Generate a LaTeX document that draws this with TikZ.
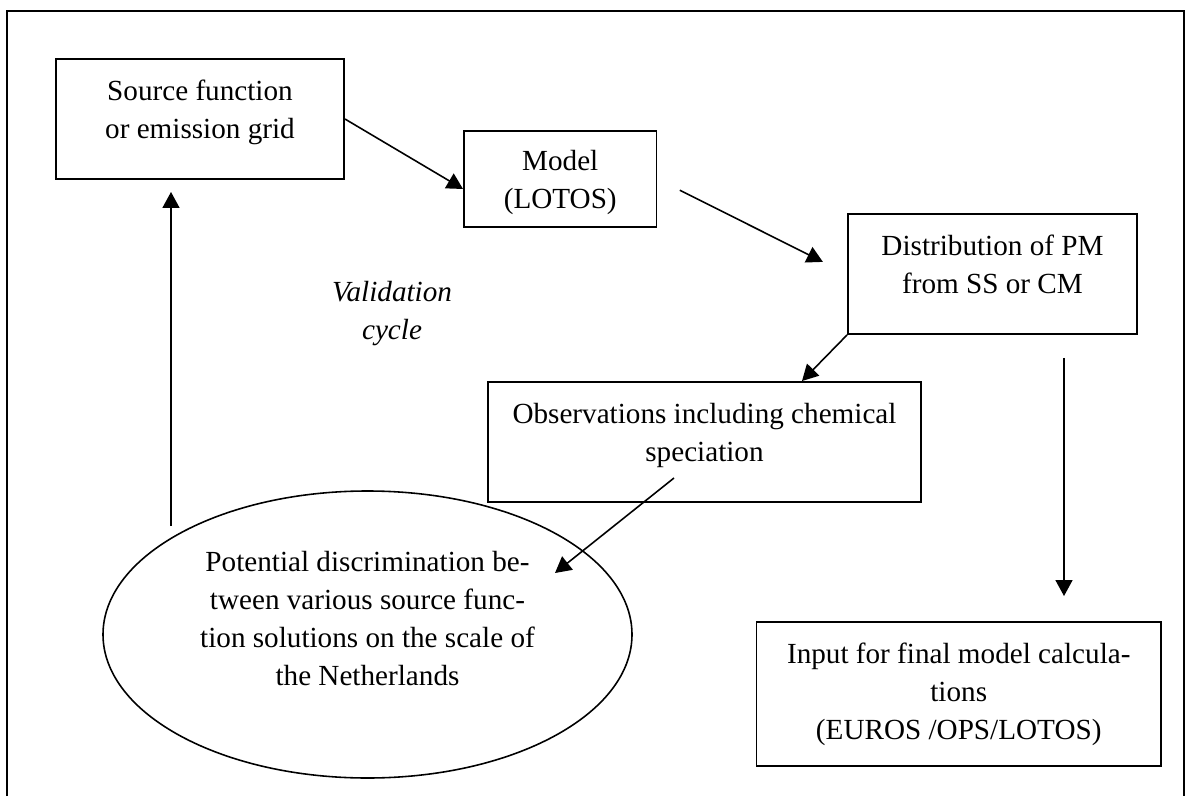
\documentclass[tikz,border=0pt]{standalone}
\usepackage{fontspec}
\setmainfont{Liberation Serif}
\usetikzlibrary{shapes.geometric,positioning,calc,arrows.meta}

\tikzset{
    txt/.style={font=\fontsize{16.6}{21.6}\selectfont, align=center},
    blockbox/.style={txt, draw, line width=1.1pt, rectangle, inner sep=0pt},
    ellbox/.style={txt, draw, line width=0.9pt, ellipse, inner sep=0pt},
    flow/.style={line width=0.9pt, -{Triangle[length=0.32cm,width=0.34cm]}}
}

\begin{document}
\begin{tikzpicture}
    \useasboundingbox (0,0) rectangle (23.72,15.92);

    % Frame (open at the bottom)
    \draw[line width=1.1pt] (0.14,0) -- (0.14,15.7) -- (23.68,15.7) -- (23.68,0);

    % Boxes
    \node[blockbox, minimum width=5.76cm, minimum height=2.4cm, text depth=11.6pt] (src) at (4.0,13.54) {Source function\\or emission grid};
    \node[blockbox, minimum width=3.85cm, minimum height=1.92cm, text depth=-3.2pt] (model) at (11.205,12.34) {Model\\(LOTOS)};
    \node[blockbox, minimum width=5.78cm, minimum height=2.4cm, text depth=11.4pt] (dist) at (19.85,10.44) {Distribution of PM\\from SS or CM};
    \node[blockbox, minimum width=8.66cm, minimum height=2.4cm, text depth=11pt] (obs) at (14.09,7.08) {Observations including chemical\\speciation};
    \node[ellbox, minimum width=10.58cm, minimum height=5.74cm, text depth=18.8pt] (ell) at (7.35,3.23) {Potential discrimination be-\\tween various source func-\\tion solutions on the scale of\\the Netherlands};
    \node[blockbox, minimum width=8.09cm, minimum height=2.88cm] (inp) at (19.175,2.04) {Input for final model calcula-\\tions\\(EUROS /OPS/LOTOS)};

    % Label of the loop
    \node[txt, font=\fontsize{16.6}{21.6}\selectfont\itshape] (cyclabel) at (7.84,9.65) {Validation\\cycle};

    % Connectors
    \coordinate (obsout) at ($(obs.center)+(-0.61,-0.72)$);
    \coordinate (ellin) at ($(ell.center)+(3.75,1.23)$);
    \coordinate (dn) at ($(dist.south)+(1.43,-0.46)$);
    \coordinate (cyc) at (3.42,5.4);

    \draw[flow] (src.east) -- ([yshift=-0.2cm]model.west);
    \draw[flow, shorten <=0.5cm, shorten >=0.54cm] (model.east) -- (dist.west);
    \draw[flow] (dist.south west) -- ([xshift=1.95cm]obs.north);
    \draw[flow, shorten >=0.5cm] (dn) -- (dn |- inp.north);
    \draw[flow] (obsout) -- (ellin);
    \draw[flow, shorten >=0.24cm] (cyc) -- (cyc |- src.south);
\end{tikzpicture}
\end{document}
